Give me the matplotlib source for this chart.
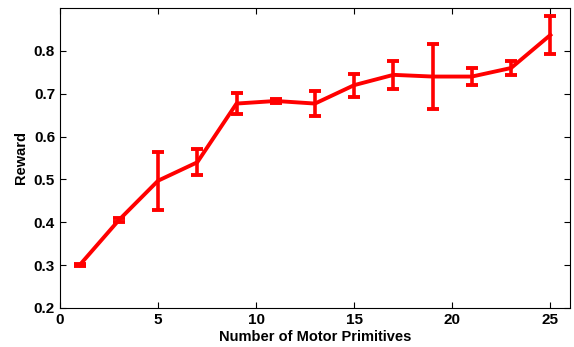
import matplotlib
matplotlib.use("Agg")
from matplotlib import pyplot as plt

# number of motor primitives vs reward
n_primitives = [1, 3, 5, 7, 9, 11, 13, 15, 17, 19, 21, 23, 25]
reward = [0.300, 0.405, 0.497, 0.540, 0.677, 0.683, 0.677, 0.720, 0.744, 0.740, 0.740, 0.760, 0.837]
reward_err = [0.002, 0.005, 0.068, 0.030, 0.025, 0.004, 0.030, 0.027, 0.032, 0.076, 0.020, 0.017, 0.045]

plt.rcParams['font.family'] = ['Liberation Sans', 'DejaVu Sans']
plt.rcParams['font.weight'] = 'bold'

fig = plt.figure(figsize=(5.74, 3.47), dpi=100)
ax = fig.add_axes([0.1045, 0.1124, 0.8885, 0.8646])

ax.errorbar(n_primitives, reward, yerr=reward_err, color='#ff0000',
            linewidth=2.8, elinewidth=2.6, capsize=4, capthick=2.8)

ax.set_xlim(0, 26)
ax.set_ylim(0.2, 0.9)
ax.set_xticks([0, 5, 10, 15, 20, 25])
ax.set_yticks([0.2, 0.3, 0.4, 0.5, 0.6, 0.7, 0.8])
ax.tick_params(direction='in', top=True, right=True, labelsize=11, length=4, width=0.8)
for lbl in ax.get_xticklabels() + ax.get_yticklabels():
    lbl.set_fontweight('bold')
for s in ax.spines.values():
    s.set_linewidth(0.8)

ax.set_xlabel('Number of Motor Primitives', fontsize=10.5, fontweight='bold', labelpad=2)
ax.set_ylabel('Reward', fontsize=10.5, fontweight='bold', labelpad=4)

fig.savefig('out.png', dpi=100)
